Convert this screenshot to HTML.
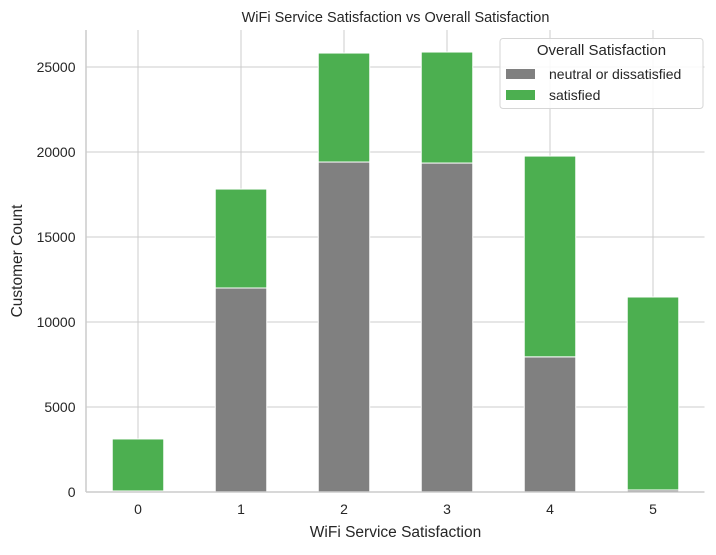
<!DOCTYPE html>
<html><head><meta charset="utf-8"><style>
body{margin:0;background:#fff;font-family:"Liberation Sans","DejaVu Sans",sans-serif;}
svg text{font-family:"Liberation Sans","DejaVu Sans",sans-serif;fill:#262626;}
</style></head><body>
<svg id="chart" width="716" height="550">
<g id="grid"></g><g id="bars"></g><g id="axes"></g>
</svg>
<script>
const categories = ["0","1","2","3","4","5"];
const neutralValues = [60, 12000, 19410, 19350, 7950, 120];
const satisfiedValues = [3060, 5820, 6410, 6530, 11810, 11350];
const yTicks = [0,5000,10000,15000,20000,25000];
const seriesNames = ["neutral or dissatisfied","satisfied"];
const colors = ["#808080","#4caf50"];

const L=86.5,R=704.5,T=30,B=492,yMax=27176;
const NS="http://www.w3.org/2000/svg";
const svg=document.getElementById('chart');
const grid=document.getElementById('grid'),barsG=document.getElementById('bars'),axes=document.getElementById('axes');
const step=(R-L)/categories.length;
function xC(i){return L+step*(i+0.5);}
function y(v){return B-(v/yMax)*(B-T);}
function mk(tag,attrs,parent){const e=document.createElementNS(NS,tag);for(const k in attrs)e.setAttribute(k,attrs[k]);parent.appendChild(e);return e;}

yTicks.forEach(t=>{
  const l=mk('line',{x1:L,x2:R,y1:y(t),y2:y(t),stroke:'#cccccc','stroke-width':1},grid);
  
  
  const tx=mk('text',{x:L-11,y:y(t)+5,'text-anchor':'end','font-size':14},axes);
  tx.textContent=t;
  
  
});
categories.forEach((c,i)=>{
  const l=mk('line',{x1:xC(i),x2:xC(i),y1:T,y2:B,stroke:'#cccccc','stroke-width':1},grid);
  
  
  const tx=mk('text',{x:xC(i),y:B+22,'text-anchor':'middle','font-size':14},axes);
  tx.textContent=c;
  
  
  const w=step*0.5;
  const r1=mk('rect',{x:xC(i)-w/2,y:y(neutralValues[i]),width:w,height:B-y(neutralValues[i]),fill:colors[0],stroke:'#fff','stroke-width':1},barsG);
  
  
  const top=neutralValues[i]+satisfiedValues[i];
  const r2=mk('rect',{x:xC(i)-w/2,y:y(top),width:w,height:y(neutralValues[i])-y(top),fill:colors[1],stroke:'#fff','stroke-width':1},barsG);
  
  
});
let s=mk('line',{x1:L-0.5,x2:L-0.5,y1:T,y2:B,stroke:'#cccccc','stroke-width':1.5},axes);


s=mk('line',{x1:L-0.5,x2:R,y1:B,y2:B,stroke:'#cccccc','stroke-width':1.5},axes);


let t=mk('text',{x:(L+R)/2,y:22,'text-anchor':'middle','font-size':14.5},axes);
t.textContent="WiFi Service Satisfaction vs Overall Satisfaction";


t=mk('text',{x:(L+R)/2,y:537,'text-anchor':'middle','font-size':15.5},axes);
t.textContent="WiFi Service Satisfaction";


t=mk('text',{x:22,y:(T+B)/2,'text-anchor':'middle','font-size':15.5,transform:'rotate(-90 22 '+((T+B)/2)+')'},axes);
t.textContent="Customer Count";


// legend
const lg=mk('g',{},svg);


mk('rect',{x:500,y:38.5,width:203,height:70,rx:3,fill:'#fff','fill-opacity':0.85,stroke:'#d6d6d6'},lg);
t=mk('text',{x:601.5,y:55,'text-anchor':'middle','font-size':15},lg);
t.textContent="Overall Satisfaction";


seriesNames.forEach((n,i)=>{
  const yy=74+i*21;
  const e=mk('g',{},lg);
  
  
  mk('rect',{x:506,y:yy-5,width:29,height:10,fill:colors[i]},e);
  const tt=mk('text',{x:549,y:yy+5,'font-size':14},e);
  tt.textContent=n;
});
</script>
</body></html>
